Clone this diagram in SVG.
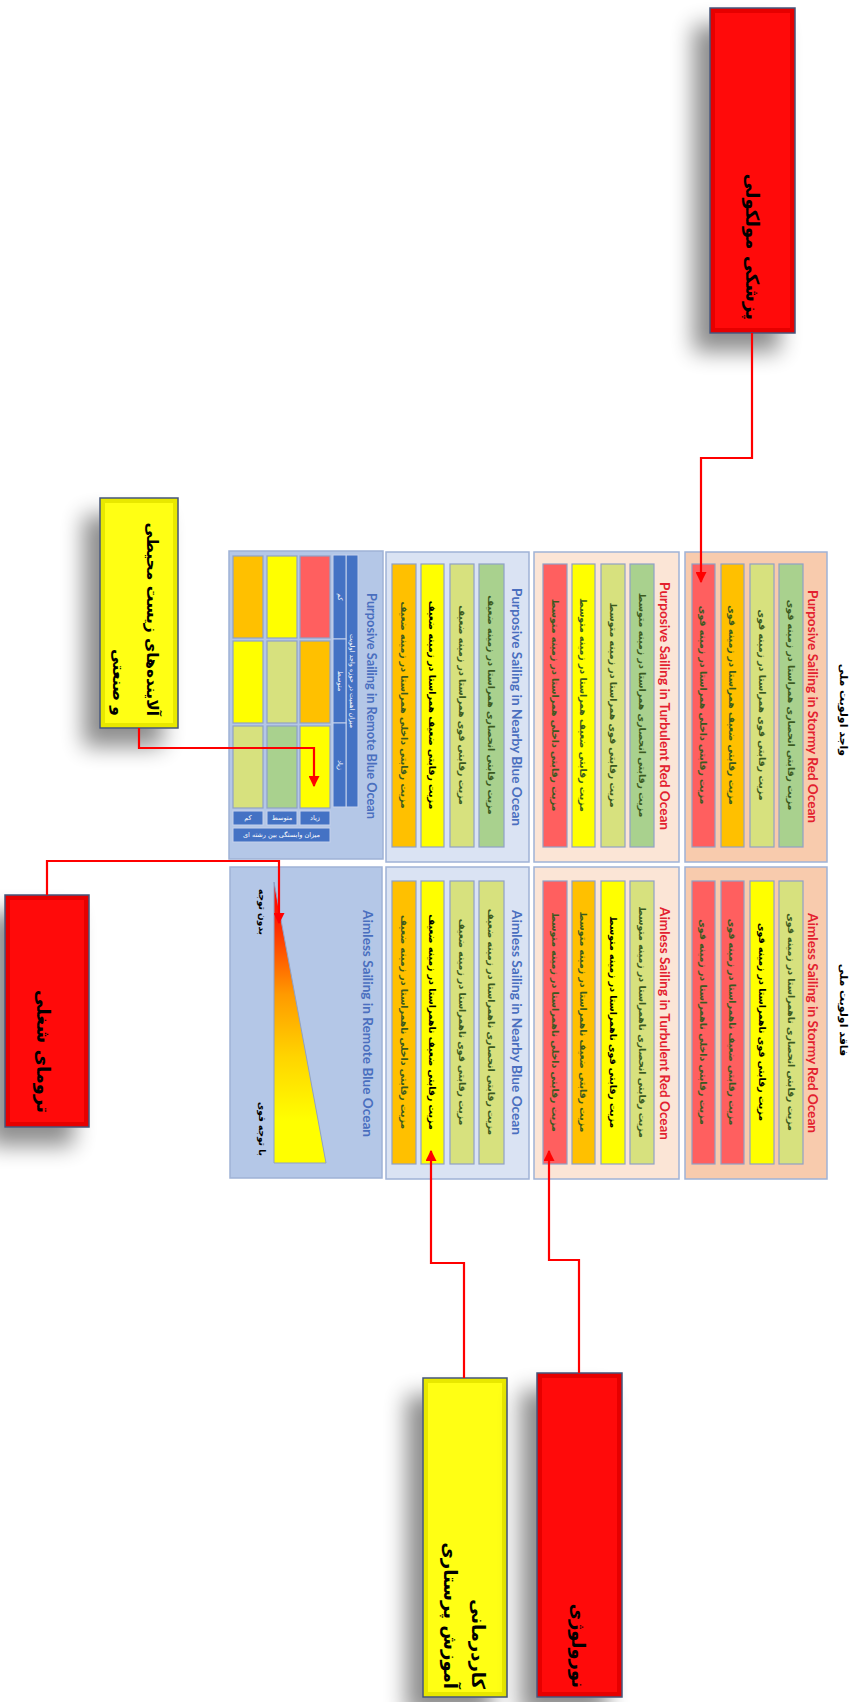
<svg xmlns="http://www.w3.org/2000/svg" width="858" height="1702" viewBox="0 0 858 1702">
<style>
.pan{stroke:#9fb2d6;stroke-width:1.5}
.st{fill:#f8cbad}.tu{fill:#fbe5d6}.ne{fill:#dae3f3}.re{fill:#b4c7e7}
.bar{stroke:#8fa1c6;stroke-width:1.2}
.r{fill:#ff5f5f}.o{fill:#ffc000}.y{fill:#ffff00}.lg{fill:#d7e17e}.g{fill:#a9d18e}
.bt{font-family:"DejaVu Sans",sans-serif;font-size:9.4px;font-weight:bold;fill:#3b5a1f;text-anchor:middle;dominant-baseline:central}
.bk{fill:#000}
.tr{font-family:Lato,"Liberation Sans",sans-serif;font-size:14px;font-weight:bold;fill:#e3212f;text-anchor:middle;dominant-baseline:central}
.tb{font-family:Lato,"Liberation Sans",sans-serif;font-size:14px;font-weight:bold;fill:#4a6fbf;text-anchor:middle;dominant-baseline:central}
.hd{font-family:"DejaVu Sans",sans-serif;font-size:11px;font-weight:bold;fill:#000;text-anchor:middle;dominant-baseline:central}
.bx{font-family:"DejaVu Sans",sans-serif;font-size:18px;font-weight:bold;fill:#000;text-anchor:end;dominant-baseline:central}
.hc{fill:#4472c4;stroke:#c5d2ec;stroke-width:1}
.wt{font-family:"DejaVu Sans",sans-serif;font-size:6.5px;fill:#fff;text-anchor:middle;dominant-baseline:central}
.sm{font-family:"DejaVu Sans",sans-serif;font-size:9px;font-weight:bold;fill:#000;text-anchor:middle;dominant-baseline:central}
.cn{fill:none;stroke:#ff0000;stroke-width:2.2;marker-end:url(#ah)}
.ro{fill:#e60000;stroke:#44567a;stroke-width:1.5}
.ri{fill:#ff0a0a}
.yo{fill:#e8e800;stroke:#44567a;stroke-width:1.5}
.yi{fill:#ffff14}
</style>
<defs>
<marker id="ah" viewBox="0 0 10 10" refX="9" refY="5" markerWidth="11" markerHeight="11" markerUnits="userSpaceOnUse" orient="auto">
<path d="M0,0 L10,5 L0,10 z" fill="#ff0000"/>
</marker>
<filter id="sh" x="-80%" y="-20%" width="220%" height="150%">
<feGaussianBlur in="SourceAlpha" stdDeviation="11"/>
<feOffset dx="-16" dy="18" result="b"/>
<feComponentTransfer><feFuncA type="linear" slope="0.45"/></feComponentTransfer>
<feMerge><feMergeNode/><feMergeNode in="SourceGraphic"/></feMerge>
</filter>
<linearGradient id="tri" x1="0" y1="0" x2="0" y2="1">
<stop offset="0" stop-color="#ff0000"/>
<stop offset="0.12" stop-color="#ff1a00"/>
<stop offset="0.4" stop-color="#ff9a00"/>
<stop offset="0.62" stop-color="#ffd400"/>
<stop offset="0.85" stop-color="#ffff00"/>
<stop offset="1" stop-color="#ffff00"/>
</linearGradient>
</defs>

<!-- column headers -->
<g id="col-headers">
<text class="hd" transform="translate(843,710) rotate(90)">واجد اولویت ملی</text>
<text class="hd" transform="translate(843,1010) rotate(90)">فاقد اولویت ملی</text>
</g>

<!-- Stormy -->
<g id="p-stormy">
<rect class="pan st" x="685" y="552" width="142" height="310"/>
<text class="tr" transform="translate(813,706.5) rotate(90)" textLength="233" lengthAdjust="spacingAndGlyphs">Purposive Sailing in Stormy Red Ocean</text>
<rect class="bar g" x="779" y="564" width="24" height="283"/>
<rect class="bar lg" x="750" y="564" width="24" height="283"/>
<rect class="bar o" x="721" y="564" width="23" height="283"/>
<rect class="bar r" x="692" y="564" width="23" height="283"/>
<text class="bt" transform="translate(791,705) rotate(90)">مزیت رقابتی انحصاری همراستا در زمینه قوی</text>
<text class="bt" transform="translate(762,705) rotate(90)">مزیت رقابتی قوی همراستا در زمینه قوی</text>
<text class="bt" transform="translate(732.5,705) rotate(90)">مزیت رقابتی ضعیف همراستا در زمینه قوی</text>
<text class="bt" transform="translate(703.5,705) rotate(90)">مزیت رقابتی داخلی همراستا در زمینه قوی</text>
</g>
<g id="a-stormy">
<rect class="pan st" x="685" y="867" width="142" height="312"/>
<text class="tr" transform="translate(813,1023) rotate(90)" textLength="220" lengthAdjust="spacingAndGlyphs">Aimless Sailing in Stormy Red Ocean</text>
<rect class="bar lg" x="779" y="881" width="24" height="283"/>
<rect class="bar y" x="750" y="881" width="24" height="283"/>
<rect class="bar r" x="721" y="881" width="23" height="283"/>
<rect class="bar r" x="692" y="881" width="23" height="283"/>
<text class="bt" transform="translate(791,1022) rotate(90)">مزیت رقابتی انحصاری ناهمراستا در زمینه قوی</text>
<text class="bt bk" transform="translate(762,1022) rotate(90)">مزیت رقابتی قوی ناهمراستا در زمینه قوی</text>
<text class="bt" transform="translate(732.5,1022) rotate(90)">مزیت رقابتی ضعیف ناهمراستا در زمینه قوی</text>
<text class="bt" transform="translate(703.5,1022) rotate(90)">مزیت رقابتی داخلی ناهمراستا در زمینه قوی</text>
</g>

<!-- Turbulent -->
<g id="p-turbulent">
<rect class="pan tu" x="534" y="552" width="145" height="310"/>
<text class="tr" transform="translate(665,706) rotate(90)" textLength="248" lengthAdjust="spacingAndGlyphs">Purposive Sailing in Turbulent Red Ocean</text>
<rect class="bar g" x="630" y="564" width="24" height="283"/>
<rect class="bar lg" x="601" y="564" width="24" height="283"/>
<rect class="bar y" x="572" y="564" width="23" height="283"/>
<rect class="bar r" x="543" y="564" width="24" height="283"/>
<text class="bt" transform="translate(642,705) rotate(90)">مزیت رقابتی انحصاری همراستا در زمینه متوسط</text>
<text class="bt" transform="translate(613,705) rotate(90)">مزیت رقابتی قوی همراستا در زمینه متوسط</text>
<text class="bt" transform="translate(583.5,705) rotate(90)">مزیت رقابتی ضعیف همراستا در زمینه متوسط</text>
<text class="bt" transform="translate(555,705) rotate(90)">مزیت رقابتی داخلی همراستا در زمینه متوسط</text>
</g>
<g id="a-turbulent">
<rect class="pan tu" x="534" y="867" width="145" height="312"/>
<text class="tr" transform="translate(665,1023.5) rotate(90)" textLength="233" lengthAdjust="spacingAndGlyphs">Aimless Sailing in Turbulent Red Ocean</text>
<rect class="bar lg" x="630" y="881" width="24" height="283"/>
<rect class="bar y" x="601" y="881" width="24" height="283"/>
<rect class="bar o" x="572" y="881" width="23" height="283"/>
<rect class="bar r" x="543" y="881" width="24" height="283"/>
<text class="bt" transform="translate(642,1022) rotate(90)">مزیت رقابتی انحصاری ناهمراستا در زمینه متوسط</text>
<text class="bt bk" transform="translate(613,1022) rotate(90)">مزیت رقابتی قوی ناهمراستا در زمینه متوسط</text>
<text class="bt" transform="translate(583.5,1022) rotate(90)">مزیت رقابتی ضعیف ناهمراستا در زمینه متوسط</text>
<text class="bt" transform="translate(555,1022) rotate(90)">مزیت رقابتی داخلی ناهمراستا در زمینه متوسط</text>
</g>

<!-- Nearby -->
<g id="p-nearby">
<rect class="pan ne" x="386" y="552" width="143" height="310"/>
<text class="tb" transform="translate(517,707) rotate(90)" textLength="238" lengthAdjust="spacingAndGlyphs">Purposive Sailing in Nearby Blue Ocean</text>
<rect class="bar g" x="479" y="564" width="25" height="283"/>
<rect class="bar lg" x="450" y="564" width="24" height="283"/>
<rect class="bar y" x="421" y="564" width="23" height="283"/>
<rect class="bar o" x="392" y="564" width="24" height="283"/>
<text class="bt" transform="translate(491.5,705) rotate(90)">مزیت رقابتی انحصاری همراستا در زمینه ضعیف</text>
<text class="bt" transform="translate(462,705) rotate(90)">مزیت رقابتی قوی همراستا در زمینه ضعیف</text>
<text class="bt bk" transform="translate(432.5,705) rotate(90)">مزیت رقابتی ضعیف همراستا در زمینه ضعیف</text>
<text class="bt" transform="translate(404,705) rotate(90)">مزیت رقابتی داخلی همراستا در زمینه ضعیف</text>
</g>
<g id="a-nearby">
<rect class="pan ne" x="386" y="867" width="143" height="312"/>
<text class="tb" transform="translate(517,1022.5) rotate(90)" textLength="225" lengthAdjust="spacingAndGlyphs">Aimless Sailing in Nearby Blue Ocean</text>
<rect class="bar lg" x="479" y="881" width="25" height="283"/>
<rect class="bar lg" x="450" y="881" width="24" height="283"/>
<rect class="bar y" x="421" y="881" width="23" height="283"/>
<rect class="bar o" x="392" y="881" width="24" height="283"/>
<text class="bt" transform="translate(491.5,1022) rotate(90)">مزیت رقابتی انحصاری ناهمراستا در زمینه ضعیف</text>
<text class="bt" transform="translate(462,1022) rotate(90)">مزیت رقابتی قوی ناهمراستا در زمینه ضعیف</text>
<text class="bt bk" transform="translate(432.5,1022) rotate(90)">مزیت رقابتی ضعیف ناهمراستا در زمینه ضعیف</text>
<text class="bt" transform="translate(404,1022) rotate(90)">مزیت رقابتی داخلی ناهمراستا در زمینه ضعیف</text>
</g>

<!-- Remote -->
<g id="p-remote">
<rect class="pan re" x="229" y="551" width="154" height="308"/>
<text class="tb" transform="translate(372,706) rotate(90)" textLength="226" lengthAdjust="spacingAndGlyphs">Purposive Sailing in Remote Blue Ocean</text>
<rect class="hc" x="346" y="555" width="12" height="252"/>
<rect class="hc" x="333" y="555" width="13" height="84"/>
<rect class="hc" x="333" y="639" width="13" height="84"/>
<rect class="hc" x="333" y="723" width="13" height="84"/>
<text class="wt" transform="translate(352,681) rotate(90)">میزان اهمیت در حوزه واجد اولویت</text>
<text class="wt" transform="translate(339.5,597) rotate(90)">کم</text>
<text class="wt" transform="translate(339.5,681) rotate(90)">متوسط</text>
<text class="wt" transform="translate(339.5,765) rotate(90)">زیاد</text>
<rect class="bar o" x="233" y="556" width="30" height="82"/>
<rect class="bar y" x="267" y="556" width="30" height="82"/>
<rect class="bar r" x="300" y="556" width="30" height="82"/>
<rect class="bar y" x="233" y="641" width="30" height="82"/>
<rect class="bar lg" x="267" y="641" width="30" height="82"/>
<rect class="bar o" x="300" y="641" width="30" height="82"/>
<rect class="bar lg" x="233" y="726" width="30" height="82"/>
<rect class="bar g" x="267" y="726" width="30" height="82"/>
<rect class="bar y" x="300" y="726" width="30" height="82"/>
<rect class="hc" x="233" y="811" width="30" height="14"/>
<rect class="hc" x="267" y="811" width="30" height="14"/>
<rect class="hc" x="300" y="811" width="30" height="14"/>
<rect class="hc" x="233" y="828" width="97" height="14"/>
<text class="wt" x="248" y="818">کم</text>
<text class="wt" x="282" y="818">متوسط</text>
<text class="wt" x="315" y="818">زیاد</text>
<text class="wt" x="281.5" y="835">میزان وابستگی بین رشته ای</text>
</g>
<g id="a-remote">
<rect class="pan re" x="230" y="867" width="152" height="311"/>
<text class="tb" transform="translate(368,1023.5) rotate(90)" textLength="227" lengthAdjust="spacingAndGlyphs">Aimless Sailing in Remote Blue Ocean</text>
<path d="M274,882 L274,1163 L326,1163 Z" fill="url(#tri)" stroke="#8fa1c6" stroke-width="1"/>
<text class="sm" transform="translate(262,912) rotate(90)">بدون توجه</text>
<text class="sm" transform="translate(262,1129) rotate(90)">با توجه قوی</text>
</g>

<!-- outer nodes -->
<g id="n-molecular">
<rect class="ro" x="710" y="8" width="85" height="325" filter="url(#sh)"/>
<rect class="ri" x="715" y="13" width="75" height="315"/>
<text class="bx" transform="translate(752,320) rotate(90)">پزشکی مولکولی</text>
</g>
<g id="n-pollutants">
<rect class="yo" x="100" y="498" width="78" height="230" filter="url(#sh)"/>
<rect class="yi" x="105" y="503" width="68" height="220"/>
<text class="bx" style="font-size:15.5px" transform="translate(152,716) rotate(90)">آلاینده‌های زیست محیطی</text>
<text class="bx" style="font-size:15.5px" transform="translate(118,716) rotate(90)">و صنعتی</text>
</g>
<g id="n-trauma">
<rect class="ro" x="5" y="895" width="84" height="232" filter="url(#sh)"/>
<rect class="ri" x="10" y="900" width="74" height="222"/>
<text class="bx" transform="translate(43,1113) rotate(90)">ترومای شغلی</text>
</g>
<g id="n-nursing">
<rect class="yo" x="423" y="1378" width="84" height="319" filter="url(#sh)"/>
<rect class="yi" x="428" y="1383" width="74" height="309"/>
<text class="bx" transform="translate(478,1689) rotate(90)">کاردرمانی</text>
<text class="bx" transform="translate(450,1689) rotate(90)">آموزش پرستاری</text>
</g>
<g id="n-neurology">
<rect class="ro" x="537" y="1373" width="85" height="324" filter="url(#sh)"/>
<rect class="ri" x="542" y="1378" width="75" height="314"/>
<text class="bx" transform="translate(578,1688) rotate(90)">نورولوژی</text>
</g>

<g id="connectors">
<path class="cn" d="M752,333 V458 H701 V582"/>
<path class="cn" d="M139,728 V748 H314 V786"/>
<path class="cn" d="M47,895 V861 H279 V923"/>
<path class="cn" d="M464,1378 V1263 H431 V1151"/>
<path class="cn" d="M579,1373 V1260 H549 V1151"/>
</g>
</svg>
